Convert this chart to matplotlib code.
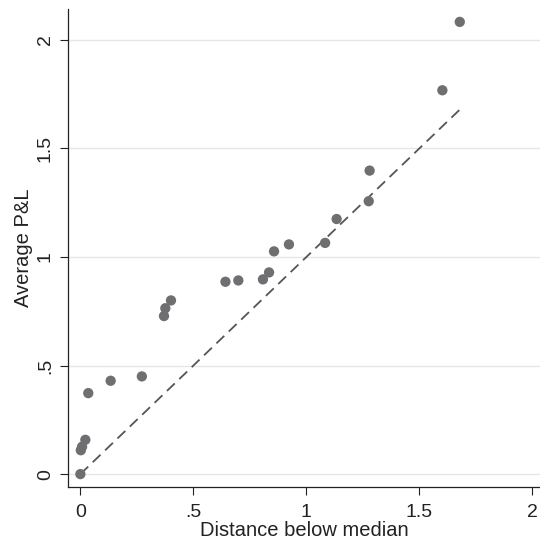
import matplotlib
matplotlib.use("Agg")
import matplotlib.pyplot as plt

# Data
distance = [0.0, 0.002, 0.0075, 0.022, 0.035, 0.134, 0.272, 0.370, 0.376, 0.401,
            0.642, 0.699, 0.808, 0.835, 0.857, 0.923, 1.083, 1.134, 1.276, 1.280,
            1.602, 1.679]
avg_pl = [0.0, 0.11, 0.126, 0.158, 0.373, 0.43, 0.45, 0.728, 0.764, 0.80,
          0.886, 0.892, 0.897, 0.929, 1.026, 1.058, 1.065, 1.175, 1.257, 1.398,
          1.768, 2.083]
line_x = [0.0, 1.68]
line_y = [0.0, 1.68]
x_ticks = [0, 0.5, 1, 1.5, 2]
x_ticklabels = ["0", ".5", "1", "1.5", "2"]
y_ticks = [0, 0.5, 1, 1.5, 2]
y_ticklabels = ["0", ".5", "1", "1.5", "2"]

plt.rcParams['font.family'] = ['Liberation Sans', 'DejaVu Sans']

fig = plt.figure(figsize=(5.4, 5.5), dpi=100)
ax = fig.add_axes([0.1254, 0.1151, 0.8746, 0.868])

ax.set_xlim(-0.056, 2.034)
ax.set_ylim(-0.058, 2.141)

for y in y_ticks:
    ax.axhline(y, color='#e6e6e6', lw=1.0, zorder=0)

ax.plot(line_x, line_y, color='#555555', lw=1.3, dashes=(6, 3.5), zorder=2)
ax.scatter(distance, avg_pl, s=55, color='#6f6f72', edgecolors='none', zorder=3)

ax.set_xticks(x_ticks)
ax.set_xticklabels(x_ticklabels)
ax.set_yticks(y_ticks)
ax.set_yticklabels(y_ticklabels, rotation=90, va='center')

ax.tick_params(axis='both', labelsize=14, length=6, width=0.8, color='#222222',
               labelcolor='#222222')
ax.tick_params(axis='y', pad=4)
ax.tick_params(axis='x', pad=6.5)

for s in ['top', 'right']:
    ax.spines[s].set_visible(False)
for s in ['left', 'bottom']:
    ax.spines[s].set_color('#222222')
    ax.spines[s].set_linewidth(0.9)

ax.set_xlabel('Distance below median', fontsize=14.5, color='#222222', labelpad=0)
ax.set_ylabel('Average P&L', fontsize=14.5, color='#222222', labelpad=3)

fig.savefig('out.png', dpi=100)
